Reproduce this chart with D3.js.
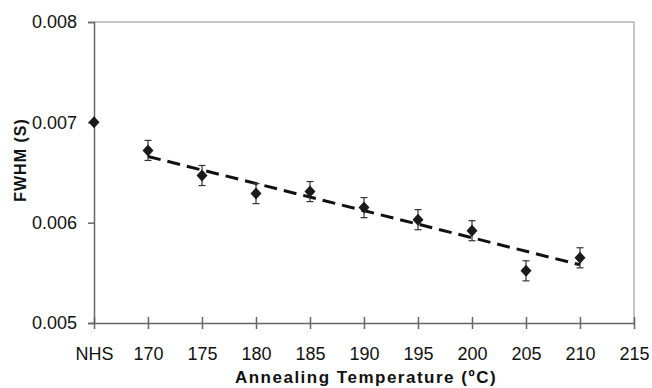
<!DOCTYPE html>
<html>
<head>
<meta charset="utf-8">
<script src="https://cdn.jsdelivr.net/npm/d3@7"></script>
<style>
  body { margin: 0; background: #fff; }
  text { font-family: "Liberation Sans", Arial, sans-serif; }
</style>
</head>
<body>
<div id="chart"></div>
<script>
// data
var temps = [165, 170, 175, 180, 185, 190, 195, 200, 205, 210];   // 165 = NHS
var fwhm = [0.00700, 0.00672, 0.00647, 0.00629, 0.00631, 0.00615, 0.00603, 0.00592, 0.00552, 0.00565];
var errs = [0, 0.00010, 0.00010, 0.00010, 0.00010, 0.00010, 0.00010, 0.00010, 0.00010, 0.00010];
var trendX = [170, 210];
var trendY = [0.00666, 0.00558];
var xTicks = [165, 170, 175, 180, 185, 190, 195, 200, 205, 210, 215];
var xTickLabels = ["NHS", "170", "175", "180", "185", "190", "195", "200", "205", "210", "215"];
var yTicks = [0.005, 0.006, 0.007, 0.008];

var W = 652, H = 388;
var plotL = 94, plotR = 634, plotT = 22, plotB = 323;

var svg = d3.select("#chart")
    .append("svg")
    .attr("width", W)
    .attr("height", H);

var x = d3.scaleLinear()
    .domain([165, 215])
    .range([plotL, plotR]);

var y = d3.scaleLinear()
    .domain([0.005, 0.008])
    .range([plotB, plotT]);

// top and right frame
svg.append("path")
    .attr("d", "M" + plotL + "," + plotT + "H" + plotR + "V" + plotB)
    .style("fill", "none")
    .style("stroke", "#b4b4b4")
    .style("stroke-width", 1.5);

// y axis
var yAxis = svg.append("g")
    .attr("transform", "translate(" + plotL + ",0)")
    .call(d3.axisLeft(y).tickValues(yTicks).tickFormat(d3.format(".3f")).tickSize(6).tickPadding(11));
yAxis.select(".domain").style("stroke", "#666").style("stroke-width", 1.5);
yAxis.selectAll(".tick line").style("stroke", "#666").style("stroke-width", 1.5);
yAxis.selectAll("text")
    .style("font-size", "18px")
    .style("fill", "#111");

// x axis (ticks cross the axis line)
var xAxis = svg.append("g")
    .attr("transform", "translate(0," + plotB + ")")
    .call(d3.axisBottom(x).tickValues(xTicks).tickFormat(function(d, i){ return xTickLabels[i]; }).tickSize(0).tickPadding(24));
xAxis.select(".domain").style("stroke", "#666").style("stroke-width", 1.5);
xAxis.selectAll(".tick").append("line")
    .attr("y1", -6).attr("y2", 6)
    .style("stroke", "#666").style("stroke-width", 1.5);
xAxis.selectAll("text")
    .style("font-size", "18px")
    .style("fill", "#111");

// axis titles
svg.append("text")
    .attr("x", (plotL + plotR) / 2 + 2)
    .attr("y", 383)
    .style("text-anchor", "middle")
    .style("font-size", "17px")
    .style("font-weight", "bold")
    .style("letter-spacing", "1.5px")
    .style("fill", "#111")
    .text("Annealing Temperature (\u00baC)");

svg.append("text")
    .attr("transform", "rotate(-90)")
    .attr("x", -160)
    .attr("y", 26)
    .style("text-anchor", "middle")
    .style("font-size", "16px")
    .style("font-weight", "bold")
    .style("letter-spacing", "1px")
    .style("fill", "#111")
    .text("FWHM (S)");

// trend line
svg.append("line")
    .attr("x1", x(trendX[0])).attr("y1", y(trendY[0]))
    .attr("x2", x(trendX[1])).attr("y2", y(trendY[1]))
    .style("stroke", "#111")
    .style("stroke-width", 3)
    .style("stroke-dasharray", "13,7");

var pts = temps.map(function(t, i){ return {t: t, v: fwhm[i], e: errs[i]}; });

// error bars
var eb = svg.append("g").selectAll("g")
    .data(pts.filter(function(d){ return d.e > 0; }))
    .enter().append("g")
    .style("stroke", "#333")
    .style("stroke-width", 1.2);
eb.append("line")
    .attr("x1", function(d){ return x(d.t); }).attr("x2", function(d){ return x(d.t); })
    .attr("y1", function(d){ return y(d.v + d.e); }).attr("y2", function(d){ return y(d.v - d.e); });
eb.append("line")
    .attr("x1", function(d){ return x(d.t) - 3.5; }).attr("x2", function(d){ return x(d.t) + 3.5; })
    .attr("y1", function(d){ return y(d.v + d.e); }).attr("y2", function(d){ return y(d.v + d.e); });
eb.append("line")
    .attr("x1", function(d){ return x(d.t) - 3.5; }).attr("x2", function(d){ return x(d.t) + 3.5; })
    .attr("y1", function(d){ return y(d.v - d.e); }).attr("y2", function(d){ return y(d.v - d.e); });

// diamond markers
svg.append("g").selectAll("path")
    .data(pts)
    .enter().append("path")
    .attr("transform", function(d){ return "translate(" + x(d.t) + "," + y(d.v) + ")"; })
    .attr("d", "M0,-6L5.5,0L0,6L-5.5,0Z")
    .style("fill", "#1a1a1a");
</script>
</body>
</html>
